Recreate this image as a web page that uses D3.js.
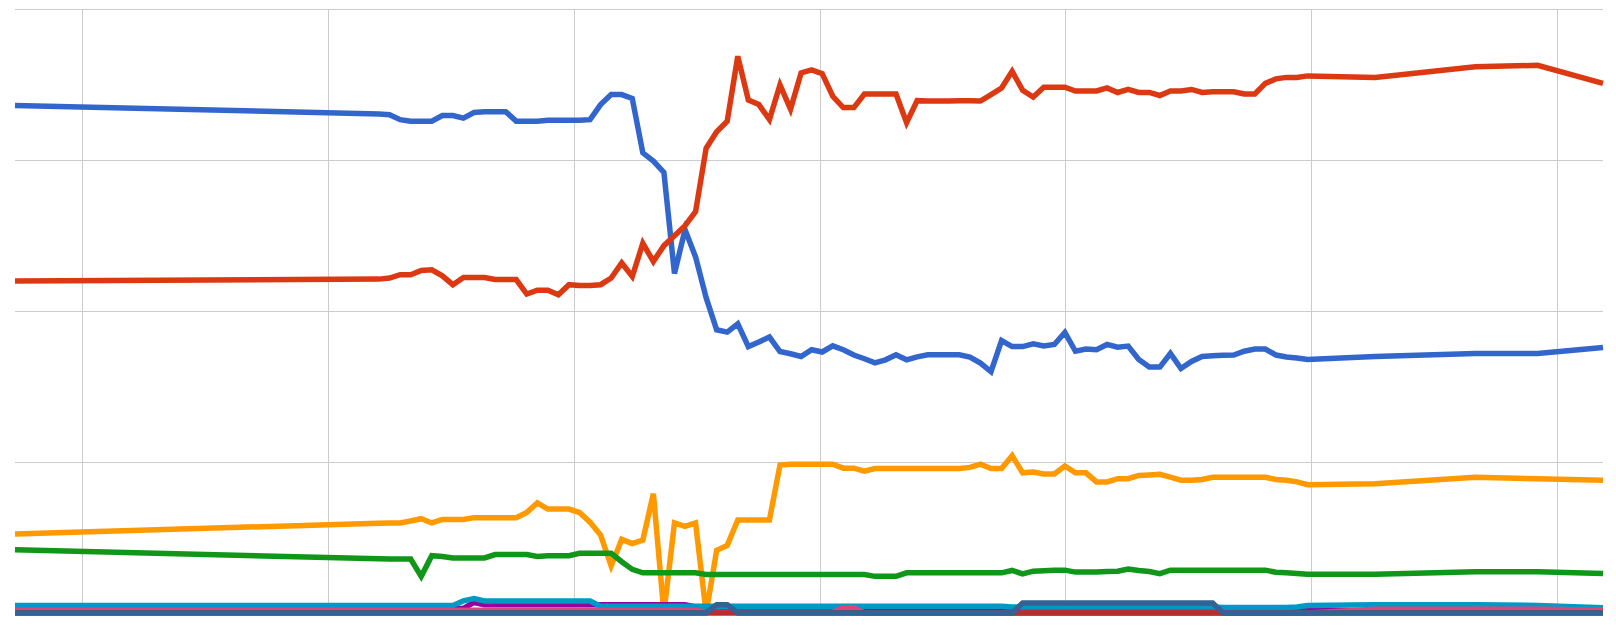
<!DOCTYPE html>
<html>
<head>
<meta charset="utf-8">
<script src="https://cdnjs.cloudflare.com/ajax/libs/d3/7.8.5/d3.min.js"></script>
<style>
  html, body { margin: 0; padding: 0; background: #fff; }
  .grid line { stroke: #cccccc; stroke-width: 1; shape-rendering: crispEdges; }
  .series { fill: none; stroke-width: 5.5; }
</style>
</head>
<body>
<div id="chart"></div>
<script>
// x values: month index (first point sits far to the left, then monthly, then a few sparse points)
var months = [-34.5,
    0, 1, 2, 3, 4, 5, 6, 7, 8, 9,
    10, 11, 12, 13, 14, 15, 16, 17, 18, 19,
    20, 21, 22, 23, 24, 25, 26, 27, 28, 29,
    30, 31, 32, 33, 34, 35, 36, 37, 38, 39,
    40, 41, 42, 43, 44, 45, 46, 47, 48, 49,
    50, 51, 52, 53, 54, 55, 56, 57, 58, 59,
    60, 61, 62, 63, 64, 65, 66, 67, 68, 69,
    70, 71, 72, 73, 74, 75, 76, 77, 78, 79,
    80, 81, 82, 83, 84, 85, 86, 87, 88,
    94.4, 103.9, 109.8, 116];

var blueValues = [33.63,
    33.08, 33.03, 32.7, 32.6, 32.6, 32.6, 32.97, 32.97, 32.8, 33.17,
    33.23, 33.23, 33.23, 32.6, 32.6, 32.6, 32.66, 32.66, 32.66, 32.66,
    32.7, 33.7, 34.36, 34.36, 34.1, 30.5, 29.95, 29.2, 22.5, 25.4,
    23.6, 20.9, 18.77, 18.62, 19.17, 17.66, 17.96, 18.29, 17.33, 17.18,
    17.0, 17.45, 17.3, 17.71, 17.45, 17.1, 16.85, 16.58, 16.78, 17.11,
    16.78, 16.98, 17.11, 17.11, 17.11, 17.11, 16.96, 16.56, 16.0, 18.06,
    17.66, 17.66, 17.84, 17.7, 17.8, 18.6, 17.35, 17.5, 17.45, 17.8,
    17.62, 17.69, 16.8, 16.3, 16.3, 17.2, 16.2, 16.67, 17.0, 17.05,
    17.08, 17.1, 17.35, 17.49, 17.49, 17.1, 16.97, 16.9, 16.8,
    17.0, 17.2, 17.2, 17.6];

var redValues = [22.0,
    22.13, 22.2, 22.42, 22.42, 22.7, 22.75, 22.35, 21.76, 22.24, 22.24,
    22.24, 22.1, 22.1, 22.1, 21.14, 21.4, 21.4, 21.1, 21.76, 21.7,
    21.7, 21.76, 22.2, 23.2, 22.3, 24.5, 23.3, 24.35, 25.0, 25.67,
    26.6, 30.8, 31.9, 32.6, 36.9, 34.0, 33.7, 32.7, 35.0, 33.4,
    35.8, 36.0, 35.75, 34.25, 33.5, 33.5, 34.4, 34.4, 34.4, 34.4,
    32.5, 33.96, 33.93, 33.93, 33.93, 33.96, 33.96, 33.93, 34.36, 34.8,
    35.9, 34.65, 34.2, 34.85, 34.85, 34.85, 34.6, 34.6, 34.6, 34.8,
    34.5, 34.7, 34.5, 34.5, 34.3, 34.6, 34.6, 34.7, 34.5, 34.55,
    34.55, 34.55, 34.4, 34.4, 35.1, 35.4, 35.5, 35.5, 35.6,
    35.5, 36.2, 36.3, 35.1];

var orangeValues = [5.24,
    5.95, 5.97, 5.97, 6.1, 6.25, 5.97, 6.2, 6.2, 6.2, 6.32,
    6.32, 6.32, 6.32, 6.32, 6.66, 7.3, 6.89, 6.89, 6.89, 6.66,
    6.02, 5.17, 3.12, 4.88, 4.6, 4.83, 7.91, 0, 5.97, 5.74,
    5.97, 0, 4.15, 4.48, 6.16, 6.16, 6.16, 6.16, 9.81, 9.86,
    9.86, 9.86, 9.86, 9.86, 9.6, 9.6, 9.4, 9.58, 9.58, 9.58,
    9.58, 9.58, 9.58, 9.58, 9.58, 9.58, 9.65, 9.86, 9.58, 9.58,
    10.43, 9.29, 9.35, 9.22, 9.22, 9.74, 9.29, 9.29, 8.69, 8.69,
    8.9, 8.9, 9.12, 9.15, 9.19, 9.0, 8.8, 8.8, 8.85, 9.0,
    9.0, 9.0, 9.0, 9.0, 9.0, 8.85, 8.8, 8.69, 8.5,
    8.56, 9.0, 8.9, 8.8];

var greenValues = [4.19,
    3.6, 3.58, 3.58, 3.58, 2.43, 3.8, 3.75, 3.65, 3.65, 3.65,
    3.65, 3.87, 3.87, 3.87, 3.87, 3.75, 3.8, 3.8, 3.8, 3.96,
    3.96, 3.96, 3.96, 3.4, 2.89, 2.66, 2.66, 2.66, 2.66, 2.66,
    2.66, 2.55, 2.55, 2.55, 2.55, 2.55, 2.55, 2.55, 2.55, 2.55,
    2.55, 2.55, 2.55, 2.55, 2.55, 2.55, 2.55, 2.43, 2.43, 2.43,
    2.66, 2.66, 2.66, 2.66, 2.66, 2.66, 2.66, 2.66, 2.66, 2.66,
    2.82, 2.59, 2.77, 2.8, 2.84, 2.84, 2.71, 2.72, 2.72, 2.75,
    2.77, 2.91, 2.82, 2.75, 2.61, 2.84, 2.84, 2.84, 2.84, 2.84,
    2.84, 2.84, 2.84, 2.84, 2.84, 2.7, 2.66, 2.62, 2.57,
    2.57, 2.73, 2.73, 2.61];

var purpleValues = [0.3,
    0.3, 0.3, 0.3, 0.3, 0.3, 0.3, 0.3, 0.3, 0.3, 0.7,
    0.55, 0.55, 0.55, 0.55, 0.55, 0.55, 0.55, 0.55, 0.55, 0.55,
    0.55, 0.55, 0.55, 0.55, 0.55, 0.55, 0.55, 0.55, 0.55, 0.55,
    0.4, 0.15, 0.15, 0.15, 0.15, 0.15, 0.15, 0.15, 0.15, 0.15,
    0.15, 0.4, 0.15, 0.15, 0.15, 0.15, 0.15, 0.15, 0.15, 0.15,
    0.15, 0.15, 0.15, 0.15, 0.15, 0.15, 0.15, 0.15, 0.15, 0.15,
    0.15, 0.15, 0.15, 0.15, 0.15, 0.15, 0.15, 0.15, 0.15, 0.15,
    0.15, 0.15, 0.15, 0.15, 0.15, 0.15, 0.15, 0.15, 0.15, 0.15,
    0.15, 0.15, 0.15, 0.15, 0.15, 0.15, 0.15, 0.15, 0.15,
    0.15, 0.15, 0.15, 0.15];

var cyanValues = [0.5,
    0.5, 0.5, 0.5, 0.5, 0.5, 0.5, 0.5, 0.5, 0.8, 0.95,
    0.8, 0.8, 0.8, 0.8, 0.8, 0.8, 0.8, 0.8, 0.8, 0.8,
    0.8, 0.45, 0.45, 0.45, 0.45, 0.45, 0.45, 0.45, 0.45, 0.45,
    0.45, 0.45, 0.45, 0.45, 0.45, 0.45, 0.45, 0.45, 0.45, 0.45,
    0.45, 0.45, 0.45, 0.45, 0.45, 0.45, 0.45, 0.45, 0.45, 0.45,
    0.45, 0.45, 0.45, 0.45, 0.45, 0.45, 0.45, 0.45, 0.45, 0.45,
    0.4, 0.4, 0.4, 0.4, 0.4, 0.4, 0.4, 0.4, 0.4, 0.4,
    0.4, 0.4, 0.4, 0.4, 0.4, 0.4, 0.4, 0.4, 0.4, 0.4,
    0.37, 0.37, 0.37, 0.37, 0.37, 0.37, 0.37, 0.4, 0.5,
    0.55, 0.55, 0.5, 0.35];

var pinkValues = [0.18,
    0.18, 0.18, 0.18, 0.18, 0.18, 0.18, 0.18, 0.18, 0.18, 0.18,
    0.18, 0.18, 0.18, 0.18, 0.18, 0.18, 0.18, 0.18, 0.18, 0.18,
    0.18, 0.18, 0.18, 0.18, 0.18, 0.18, 0.18, 0.18, 0.18, 0.18,
    0.18, 0.05, 0.05, 0.05, 0.05, 0.05, 0.05, 0.05, 0.05, 0.05,
    0.05, 0.05, 0.05, 0.05, 0.35, 0.35, 0, 0, 0, 0,
    0, 0, 0, 0, 0, 0, 0, 0, 0, 0,
    0, 0, 0, 0, 0, 0, 0, 0, 0, 0,
    0, 0, 0, 0, 0, 0, 0, 0, 0, 0,
    0, 0, 0, 0, 0, 0, 0, 0, 0,
    0.25, 0.25, 0.25, 0.2];

var darkRedValues = [0,
    0, 0, 0, 0, 0, 0, 0, 0, 0, 0,
    0, 0, 0, 0, 0, 0, 0, 0, 0, 0,
    0, 0, 0, 0, 0, 0, 0, 0, 0, 0,
    0, 0, 0, 0, 0, 0, 0, 0, 0, 0,
    0, 0, 0, 0, 0, 0, 0, 0, 0, 0,
    0, 0, 0, 0, 0, 0, 0, 0, 0, 0,
    0, 0, 0, 0, 0, 0, 0, 0, 0, 0,
    0, 0, 0, 0, 0, 0, 0, 0, 0, 0,
    0, 0, 0, 0, 0, 0, 0, 0, 0,
    0, 0, 0, 0];

var slateValues = [0,
    0, 0, 0, 0, 0, 0, 0, 0, 0, 0,
    0, 0, 0, 0, 0, 0, 0, 0, 0, 0,
    0, 0, 0, 0, 0, 0, 0, 0, 0, 0,
    0, 0, 0.55, 0.55, 0, 0, 0, 0, 0, 0,
    0, 0, 0, 0, 0, 0, 0, 0, 0, 0,
    0, 0, 0, 0, 0, 0, 0, 0, 0, 0,
    0, 0.66, 0.66, 0.66, 0.66, 0.66, 0.66, 0.66, 0.66, 0.66,
    0.66, 0.66, 0.66, 0.66, 0.66, 0.66, 0.66, 0.66, 0.66, 0.66,
    0, 0, 0, 0, 0, 0, 0, 0, 0,
    0, 0, 0, 0];

var gridXTicks = [-28.1, -4.8, 18.5, 41.8, 65.05, 88.35, 111.65];
var gridYTicks = [10, 20, 30, 40];

var series = [
    { color: "#3366cc", values: blueValues },
    { color: "#dc3912", values: redValues },
    { color: "#ff9900", values: orangeValues },
    { color: "#109618", values: greenValues },
    { color: "#990099", values: purpleValues },
    { color: "#0099c6", values: cyanValues },
    { color: "#dd4477", values: pinkValues },
    { color: "#b82e2e", values: darkRedValues },
    { color: "#316395", values: slateValues }
];

function drawChart() {
    var width = 1616, height = 625;
    var area = { left: 15, right: 1603, top: 9.5, bottom: 613 };

    var svg = d3.select("#chart")
        .append("svg")
        .attr("width", width)
        .attr("height", height);

    var x = d3.scaleLinear()
        .domain(d3.extent(months))
        .range([area.left, area.right]);

    var y = d3.scaleLinear()
        .domain([0, 40])
        .range([area.bottom, area.top]);

    var grid = svg.append("g").attr("class", "grid");

    grid.selectAll(".gy")
        .data(gridYTicks)
        .enter().append("line")
        .attr("class", "gy")
        .attr("x1", area.left)
        .attr("x2", area.right)
        .attr("y1", function (d) { return y(d); })
        .attr("y2", function (d) { return y(d); });

    grid.selectAll(".gx")
        .data(gridXTicks)
        .enter().append("line")
        .attr("class", "gx")
        .attr("x1", function (d) { return x(d); })
        .attr("x2", function (d) { return x(d); })
        .attr("y1", area.top)
        .attr("y2", area.bottom);

    var line = d3.line()
        .x(function (d, i) { return x(months[i]); })
        .y(function (d) { return y(d); });

    svg.append("g")
        .selectAll("path")
        .data(series)
        .enter().append("path")
        .attr("class", "series")
        .attr("stroke", function (d) { return d.color; })
        .attr("d", function (d) { return line(d.values); });
}

drawChart();
</script>
</body>
</html>
